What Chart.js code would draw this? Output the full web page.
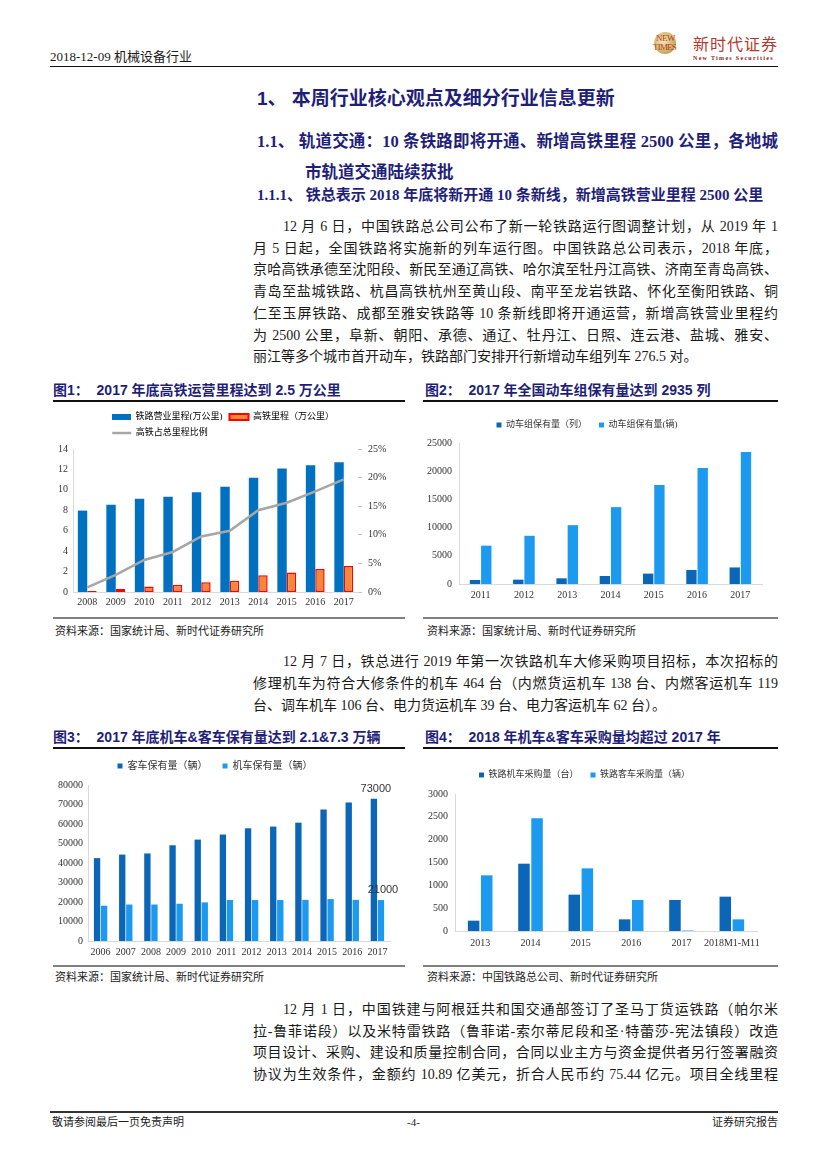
<!DOCTYPE html>
<html>
<head>
<meta charset="utf-8">
<script src="https://cdn.jsdelivr.net/npm/chart.js@4.4.1/dist/chart.umd.min.js"></script>
<style>
  html, body { margin: 0; padding: 0; background: #fff; }
  #page { position: relative; width: 827px; height: 1169px; overflow: hidden; }
  .t { position: absolute; white-space: nowrap; line-height: 20px; height: 20px; color: #1a1a1a;
       font-family: "Liberation Serif", "Noto Sans CJK SC", serif; }
  .rule { position: absolute; height: 1.5px; background: #111; }
  .grey { position: absolute; height: 2px; background: #808080; }
  .h { color: #1f1f7a; font-weight: bold; }
  .hs { font-family: "Liberation Sans", "Noto Sans CJK SC", sans-serif; }
  .p { font-size: 14px; left: 253px; width: 525px; }
  .j { text-align: justify; text-align-last: justify; }
  .ind { text-indent: 30px; }
  .ct { font-family: "Liberation Sans", "Noto Sans CJK SC", sans-serif; font-size: 14px; font-weight: bold; color: #1f1f7a; }
  .src { font-size: 11px; color: #222; }
  canvas { position: absolute; }
</style>
</head>
<body>
<div id="page">
  <!-- header -->
  <div class="t" style="left:50px;top:47px;font-size:13px;">2018-12-09 机械设备行业</div>
  <div style="position:absolute;left:654px;top:32px;width:22px;height:22px;border-radius:50%;background:radial-gradient(circle at 40% 40%,#f3e7bb,#cdb266 60%,#9c8440);"></div>
  <div class="t" style="left:656px;top:34px;font-size:9px;line-height:9px;height:9px;color:#c0392b;letter-spacing:-0.5px;">NEW</div>
  <div class="t" style="left:653px;top:43px;font-size:9px;line-height:9px;height:9px;color:#c0392b;letter-spacing:-0.8px;">TIMES</div>
  <div class="t" style="left:693px;top:33px;font-size:16px;color:#b03a2e;letter-spacing:1px;font-family:'Noto Sans CJK SC',sans-serif;">新时代证券</div>
  <div class="t" style="left:693px;top:48px;font-size:6px;color:#8b1a1a;letter-spacing:1.3px;font-weight:bold;">New Times Securities</div>
  <div class="rule" style="left:50px;top:65.5px;width:728px;"></div>

  <!-- headings -->
  <div class="t h hs" style="left:257px;top:89px;font-size:19px;">1、 本周行业核心观点及细分行业信息更新</div>
  <div class="t h j" style="left:257px;top:132px;width:521px;font-size:16.5px;">1.1、 轨道交通：10 条铁路即将开通、新增高铁里程 2500 公里，各地城</div>
  <div class="t h" style="left:305px;top:163px;font-size:16.5px;">市轨道交通陆续获批</div>
  <div class="t h" style="left:257px;top:185px;font-size:15px;">1.1.1、 铁总表示 2018 年底将新开通 10 条新线，新增高铁营业里程 2500 公里</div>

  <!-- paragraph 1 -->
  <div class="t p j ind" style="top:217px;">12 月 6 日，中国铁路总公司公布了新一轮铁路运行图调整计划，从 2019 年 1</div>
  <div class="t p j" style="top:238.7px;">月 5 日起，全国铁路将实施新的列车运行图。中国铁路总公司表示，2018 年底，</div>
  <div class="t p j" style="top:260.4px;">京哈高铁承德至沈阳段、新民至通辽高铁、哈尔滨至牡丹江高铁、济南至青岛高铁、</div>
  <div class="t p j" style="top:282.1px;">青岛至盐城铁路、杭昌高铁杭州至黄山段、南平至龙岩铁路、怀化至衡阳铁路、铜</div>
  <div class="t p j" style="top:303.8px;">仁至玉屏铁路、成都至雅安铁路等 10 条新线即将开通运营，新增高铁营业里程约</div>
  <div class="t p j" style="top:325.5px;">为 2500 公里，阜新、朝阳、承德、通辽、牡丹江、日照、连云港、盐城、雅安、</div>
  <div class="t p" style="top:347.2px;">丽江等多个城市首开动车，铁路部门安排开行新增动车组列车 276.5 对。</div>

  <!-- figure 1 & 2 titles -->
  <div class="t ct" style="left:53px;top:380px;">图1：&nbsp; 2017 年底高铁运营里程达到 2.5 万公里</div>
  <div class="t ct" style="left:425px;top:380px;">图2：&nbsp; 2017 年全国动车组保有量达到 2935 列</div>
  <div class="rule" style="left:53px;top:400px;width:352px;"></div>
  <div class="rule" style="left:423px;top:400px;width:355px;"></div>

  <canvas id="c1" width="366" height="212" style="left:40px;top:403px;"></canvas>
  <canvas id="c2" width="370" height="213" style="left:412px;top:402px;"></canvas>

  <div class="grey" style="left:53px;top:617px;width:352px;"></div>
  <div class="grey" style="left:423px;top:617px;width:355px;"></div>
  <div class="t src" style="left:55px;top:621px;">资料来源：国家统计局、新时代证券研究所</div>
  <div class="t src" style="left:427px;top:621px;">资料来源：国家统计局、新时代证券研究所</div>

  <!-- paragraph 2 -->
  <div class="t p j ind" style="top:652px;">12 月 7 日，铁总进行 2019 年第一次铁路机车大修采购项目招标，本次招标的</div>
  <div class="t p j" style="top:674px;">修理机车为符合大修条件的机车 464 台（内燃货运机车 138 台、内燃客运机车 119</div>
  <div class="t p" style="top:696px;">台、调车机车 106 台、电力货运机车 39 台、电力客运机车 62 台）。</div>

  <!-- figure 3 & 4 titles -->
  <div class="t ct" style="left:53px;top:727px;">图3：&nbsp; 2017 年底机车&amp;客车保有量达到 2.1&amp;7.3 万辆</div>
  <div class="t ct" style="left:425px;top:727px;">图4：&nbsp; 2018 年机车&amp;客车采购量均超过 2017 年</div>
  <div class="rule" style="left:53px;top:747px;width:352px;"></div>
  <div class="rule" style="left:423px;top:747px;width:355px;"></div>

  <canvas id="c3" width="366" height="222" style="left:40px;top:740px;"></canvas>
  <canvas id="c4" width="370" height="222" style="left:412px;top:740px;"></canvas>

  <div class="grey" style="left:53px;top:965px;width:352px;"></div>
  <div class="grey" style="left:423px;top:965px;width:355px;"></div>
  <div class="t src" style="left:55px;top:967px;">资料来源：国家统计局、新时代证券研究所</div>
  <div class="t src" style="left:427px;top:967px;">资料来源：中国铁路总公司、新时代证券研究所</div>

  <!-- paragraph 3 -->
  <div class="t p j ind" style="top:1000px;">12 月 1 日，中国铁建与阿根廷共和国交通部签订了圣马丁货运铁路（帕尔米</div>
  <div class="t p j" style="top:1021.7px;">拉-鲁菲诺段）以及米特雷铁路（鲁菲诺-索尔蒂尼段和圣·特蕾莎-宪法镇段）改造</div>
  <div class="t p j" style="top:1043.4px;">项目设计、采购、建设和质量控制合同，合同以业主方与资金提供者另行签署融资</div>
  <div class="t p j" style="top:1065px;">协议为生效条件，金额约 10.89 亿美元，折合人民币约 75.44 亿元。项目全线里程</div>

  <!-- footer -->
  <div class="rule" style="left:50px;top:1111px;width:728px;background:#333;"></div>
  <div class="t src" style="left:52px;top:1112px;">敬请参阅最后一页免责声明</div>
  <div class="t src" style="left:407px;top:1112px;">-4-</div>
  <div class="t src" style="left:712px;top:1112px;">证券研究报告</div>
</div>

<script>
// ---- data ----
const mileageYears = ["2008", "2009", "2010", "2011", "2012", "2013", "2014", "2015", "2016", "2017"];
const railMileage = [7.97, 8.55, 9.12, 9.32, 9.76, 10.31, 11.18, 12.1, 12.4, 12.7];
const hsrMileage = [0.1, 0.3, 0.55, 0.7, 0.95, 1.1, 1.65, 1.9, 2.25, 2.55];
const hsrShare = [0.8, 3.0, 5.6, 7.0, 9.7, 10.7, 14.3, 15.6, 17.6, 19.7];

const emuYears = ["2011", "2012", "2013", "2014", "2015", "2016", "2017"];
const emuSets = [710, 770, 1010, 1420, 1840, 2490, 2935];
const emuCars = [6800, 8550, 10430, 13630, 17540, 20560, 23400];

const stockYears = ["2006", "2007", "2008", "2009", "2010", "2011", "2012", "2013", "2014", "2015", "2016", "2017"];
const passengerCars = [42500, 44300, 44900, 49100, 52000, 54600, 57800, 58700, 60700, 67500, 71000, 73000];
const locomotives = [18100, 18700, 18700, 19100, 19800, 21000, 21000, 21000, 21100, 21500, 21100, 21000];

const purchaseYears = ["2013", "2014", "2015", "2016", "2017", "2018M1-M11"];
const locoPurchase = [226, 1474, 796, 255, 679, 752];
const carPurchase = [1219, 2467, 1372, 679, 10, 255];

// ---- styles ----
const serif = '"Liberation Serif", "Noto Sans CJK SC", serif';
const DARK = "#0B66B7";
const LIGHT = "#1C9AF0";
const AXIS = "#D9D9D9";
const HSR_FILL = "#F4873A";

Chart.defaults.font.family = serif;
Chart.defaults.color = "#333";

// empty box on top: keeps a fixed gap between legend and plot
function gapAxis(h) {
  return {
    type: "category", position: "top",
    grid: { display: false, drawTicks: false }, border: { display: false },
    ticks: { display: false },
    afterFit(s) { s.height = h; }
  };
}

function xAxis(h, pad) {
  return {
    grid: { display: false, drawTicks: false },
    border: { color: AXIS },
    ticks: { padding: pad, font: { size: 10 }, autoSkip: false, maxRotation: 0, minRotation: 0 },
    afterFit(s) { s.height = h; }
  };
}

function yAxis(w, pad, max, step) {
  return {
    position: "left", min: 0, max: max,
    grid: { display: false, drawTicks: false },
    border: { color: AXIS },
    ticks: { stepSize: step, padding: pad, font: { size: 10 }, callback: v => String(v) },
    afterFit(s) { s.width = w; }
  };
}

function squareLegend(size, pad) {
  return {
    position: "top",
    labels: {
      usePointStyle: true, pointStyle: "rect", pointStyleWidth: 5, boxHeight: 5,
      padding: pad, color: "#333", font: { size: size, family: serif }
    }
  };
}

// value labels over the last pair of bars
const endLabels = {
  id: "endLabels",
  afterDatasetsDraw(chart) {
    const ctx = chart.ctx;
    ctx.save();
    ctx.font = '11px "Liberation Sans", Arial, sans-serif';
    ctx.fillStyle = "#333";
    ctx.textAlign = "center";
    ctx.textBaseline = "middle";
    chart.data.datasets.forEach((ds, i) => {
      const meta = chart.getDatasetMeta(i);
      const last = meta.data.length - 1;
      const bar = meta.data[last];
      ctx.fillText(ds.data[last], bar.x + 2, bar.y - 10);
    });
    ctx.restore();
  }
};

// ---- chart 1 ----
const c1Names = ["铁路营业里程(万公里)", "高铁里程（万公里）", "高铁占总里程比例"];

new Chart(document.getElementById("c1"), {
  type: "bar",
  data: {
    labels: mileageYears,
    datasets: [
      { label: c1Names[0], data: railMileage, backgroundColor: "#0070C0", xAxisID: "x", yAxisID: "y", order: 1 },
      { label: c1Names[1], data: hsrMileage, backgroundColor: HSR_FILL, borderColor: "#FF0000",
        borderWidth: 1.5, borderSkipped: false, xAxisID: "x", yAxisID: "y", order: 1 },
      { type: "line", label: c1Names[2], data: hsrShare, borderColor: "#A6A6A6", borderWidth: 2.5,
        pointRadius: 0, tension: 0, xAxisID: "x", yAxisID: "y1", order: 0 }
    ]
  },
  options: {
    responsive: false,
    animation: false,
    layout: { padding: { top: 2.5, left: 0, right: 0, bottom: 0 } },
    datasets: { bar: { categoryPercentage: 0.66, barPercentage: 1 } },
    plugins: {
      tooltip: { enabled: false },
      legend: {
        position: "top",
        labels: {
          usePointStyle: true, pointStyleWidth: 19, boxHeight: 6, padding: 7,
          color: "#333", font: { size: 9, family: serif },
          generateLabels(chart) {
            const ctx = chart.ctx;
            ctx.save();
            ctx.font = "9px " + serif;
            const itemW = s => 19 + 4.5 + ctx.measureText(s).width;
            // pad the third label so the second row starts under the first
            const target = itemW(c1Names[0]) + itemW(c1Names[1]) + 7;
            let third = c1Names[2];
            while (itemW(third + " ") <= target) third += " ";
            ctx.restore();
            return [
              { text: c1Names[0], pointStyle: "rect", fillStyle: "#0070C0", strokeStyle: "#0070C0", lineWidth: 0, datasetIndex: 0 },
              { text: c1Names[1], pointStyle: "rect", fillStyle: HSR_FILL, strokeStyle: "#FF0000", lineWidth: 2, datasetIndex: 1 },
              { text: third, pointStyle: "line", fillStyle: "#A6A6A6", strokeStyle: "#A6A6A6", lineWidth: 2.5, datasetIndex: 2 }
            ];
          }
        }
      }
    },
    scales: {
      x: xAxis(23, 4),
      y: yAxis(33, 5, 14, 2),
      y1: {
        position: "right", min: 0, max: 25,
        grid: { drawOnChartArea: false, tickLength: 4, color: "#BFBFBF" },
        border: { display: false },
        ticks: { stepSize: 5, padding: 6, font: { size: 10 }, callback: v => v + "%" },
        afterFit(s) { s.width = 48; }
      },
      gap: gapAxis(1.5)
    }
  }
});

// ---- chart 2 ----
new Chart(document.getElementById("c2"), {
  type: "bar",
  data: {
    labels: emuYears,
    datasets: [
      { label: "动车组保有量（列）", data: emuSets, backgroundColor: DARK, xAxisID: "x" },
      { label: "动车组保有量(辆)", data: emuCars, backgroundColor: LIGHT, xAxisID: "x" }
    ]
  },
  options: {
    responsive: false,
    animation: false,
    layout: { padding: { top: 6.5, left: 0, right: 20, bottom: 0 } },
    datasets: { bar: { categoryPercentage: 0.52, barPercentage: 0.92 } },
    plugins: { tooltip: { enabled: false }, legend: squareLegend(9, 12) },
    scales: {
      x: xAxis(31, 5),
      y: yAxis(47, 7, 25000, 5000),
      gap: gapAxis(3.5)
    }
  }
});

// ---- chart 3 ----
new Chart(document.getElementById("c3"), {
  type: "bar",
  data: {
    labels: stockYears,
    datasets: [
      { label: "客车保有量（辆）", data: passengerCars, backgroundColor: DARK, xAxisID: "x" },
      { label: "机车保有量（辆）", data: locomotives, backgroundColor: LIGHT, xAxisID: "x" }
    ]
  },
  options: {
    responsive: false,
    animation: false,
    layout: { padding: { top: 6, left: 0, right: 16, bottom: 0 } },
    datasets: { bar: { categoryPercentage: 0.56, barPercentage: 0.9 } },
    plugins: { tooltip: { enabled: false }, legend: squareLegend(10, 15) },
    scales: {
      x: xAxis(21, 5),
      y: yAxis(48, 5, 80000, 10000),
      gap: gapAxis(4)
    }
  },
  plugins: [endLabels]
});

// ---- chart 4 ----
new Chart(document.getElementById("c4"), {
  type: "bar",
  data: {
    labels: purchaseYears,
    datasets: [
      { label: "铁路机车采购量（台）", data: locoPurchase, backgroundColor: DARK, xAxisID: "x" },
      { label: "铁路客车采购量（辆）", data: carPurchase, backgroundColor: LIGHT, xAxisID: "x" }
    ]
  },
  options: {
    responsive: false,
    animation: false,
    layout: { padding: { top: 18.5, left: 0, right: 25, bottom: 0 } },
    datasets: { bar: { categoryPercentage: 0.52, barPercentage: 0.88 } },
    plugins: { tooltip: { enabled: false }, legend: squareLegend(9, 12) },
    scales: {
      x: xAxis(31, 6),
      y: yAxis(43, 7, 3000, 500),
      gap: gapAxis(4.5)
    }
  }
});
</script>
</body>
</html>
